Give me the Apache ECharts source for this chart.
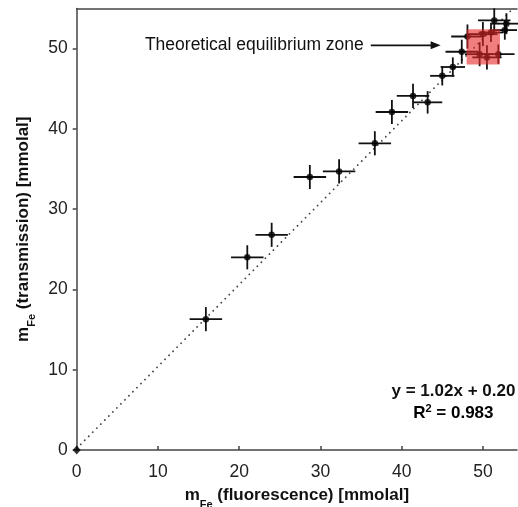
<!DOCTYPE html>
<html><head><meta charset="utf-8">
<script src="https://cdn.jsdelivr.net/npm/echarts@6/dist/echarts.min.js"></script>
<style>html,body{margin:0;padding:0;background:#fff}#c{width:518px;height:507px}</style>
</head><body><div id="c"></div>
<script>
// fluorescence (x) vs transmission (y), mmolal
var xVals = [15.9, 21.0, 24.0, 28.7, 32.3, 36.7, 38.8, 41.4, 43.2, 45.0, 46.3, 47.4, 48.1, 49.6, 50.5, 51.9, 50.0, 51.0, 51.4, 52.9, 52.7];
var yVals = [16.3, 24.0, 26.8, 34.0, 34.7, 38.2, 42.1, 44.1, 43.3, 46.6, 47.7, 49.6, 51.5, 49.3, 48.9, 49.3, 51.8, 52.0, 53.5, 53.1, 52.3];
var xErr  = [2.0, 2.0, 2.0, 2.0, 2.0, 2.0, 2.0, 2.0, 1.8, 1.5, 1.5, 2.0, 2.0, 1.8, 1.8, 2.0, 1.8, 1.5, 2.0, 1.8, 1.5];
var yErr  = [1.5, 1.5, 1.5, 1.5, 1.5, 1.5, 1.5, 1.5, 1.4, 1.2, 1.2, 1.5, 1.5, 1.5, 1.5, 1.2, 1.5, 1.2, 1.5, 1.3, 1.2];
var zoneX = [48.0, 52.1];
var zoneY = [48.0, 52.4];
var fitSlope = 1.02, fitIntercept = 0.20;
var fitXEnd = 53.7;
var xTicks = [0, 10, 20, 30, 40, 50];
var yTicks = [0, 10, 20, 30, 40, 50];

var pts = xVals.map(function (x, i) { return [x, yVals[i], xErr[i], yErr[i]]; });
var fitLine = [[0, fitIntercept], [fitXEnd, fitSlope * fitXEnd + fitIntercept]];

var FONT = '"Liberation Sans", Arial, sans-serif';
var chart = echarts.init(document.getElementById('c'), null, {renderer: 'canvas'});
var nameRich = {
  b: {fontFamily: FONT, fontWeight: 'bold', fontSize: 17, color: '#111'},
  s: {fontFamily: FONT, fontWeight: 'bold', fontSize: 11, color: '#111', verticalAlign: 'bottom', padding: [0, 0, -6, 0]}
};

var option = {
  animation: false,
  backgroundColor: '#fff',
  grid: {left: 76.7, right: 1, top: 8.4, bottom: 57, show: false, outerBoundsMode: 'none', containLabel: false},
  xAxis: [{
    type: 'value', min: 0, max: 54.2, interval: 10,
    name: '{b|m}{s|Fe}{b| (fluorescence) [mmolal]}', nameLocation: 'middle', nameGap: 37,
    nameTextStyle: {rich: nameRich},
    axisLine: {show: true, onZero: false, lineStyle: {color: '#444', width: 1.5}},
    axisTick: {show: true, inside: true, length: 4, lineStyle: {color: '#444', width: 1.5}},
    axisLabel: {fontFamily: FONT, fontSize: 17.5, color: '#222', margin: 13, showMaxLabel: false,
      formatter: function (v) { return xTicks.indexOf(v) >= 0 ? String(v) : ''; }},
    splitLine: {show: false}
  }, {
    type: 'value', position: 'top', min: 0, max: 54.2,
    axisLine: {show: true, onZero: false, lineStyle: {color: '#444', width: 1.5}},
    axisTick: {show: false}, axisLabel: {show: false}, splitLine: {show: false}
  }],
  yAxis: {
    type: 'value', min: 0, max: 55, interval: 10,
    name: '{b|m}{s|Fe}{b| (transmission) [mmolal]}', nameLocation: 'middle', nameGap: 43,
    nameTextStyle: {rich: nameRich},
    axisLine: {show: true, onZero: false, lineStyle: {color: '#444', width: 1.5}},
    axisTick: {show: true, inside: false, length: 4, lineStyle: {color: '#444', width: 1.5}},
    axisLabel: {fontFamily: FONT, fontSize: 17.5, color: '#222', margin: 9, showMaxLabel: false,
      formatter: function (v) { return yTicks.indexOf(v) >= 0 ? String(v) : ''; }},
    splitLine: {show: false}
  },
  series: [
    {
      type: 'line', data: fitLine, symbol: 'none', silent: true, z: 1,
      lineStyle: {color: '#444', width: 1.8, type: [0.1, 5.6], cap: 'round'}
    },
    {
      type: 'custom', z: 3, silent: true,
      renderItem: function (params, api) {
        var x = api.value(0), y = api.value(1), ex = api.value(2), ey = api.value(3);
        var l = api.coord([x - ex, y]), r = api.coord([x + ex, y]);
        var t = api.coord([x, y + ey]), b = api.coord([x, y - ey]);
        var st = {stroke: '#111', lineWidth: 1.8};
        return {type: 'group', children: [
          {type: 'line', shape: {x1: l[0], y1: l[1], x2: r[0], y2: r[1]}, style: st},
          {type: 'line', shape: {x1: t[0], y1: t[1], x2: b[0], y2: b[1]}, style: st}
        ]};
      },
      data: pts
    },
    {
      type: 'scatter', data: pts.map(function (p) { return [p[0], p[1]]; }), z: 4,
      symbol: 'circle', symbolSize: 6.5, itemStyle: {color: '#000'}, silent: true
    },
    {
      type: 'scatter', data: [[0, 0]], z: 5, symbol: 'diamond', symbolSize: [8, 9],
      itemStyle: {color: '#000'}, silent: true
    },
    {
      type: 'custom', z: 6, silent: true,
      renderItem: function (params, api) {
        var a = api.coord([api.value(0), api.value(3)]);
        var b = api.coord([api.value(2), api.value(1)]);
        return {type: 'rect', shape: {x: a[0], y: a[1], width: b[0] - a[0], height: b[1] - a[1]},
          style: {fill: 'rgba(232,40,40,0.6)'}};
      },
      data: [[zoneX[0], zoneY[0], zoneX[1], zoneY[1]]]
    }
  ]
};
chart.setOption(option);

var arrowStart = chart.convertToPixel({gridIndex: 0}, [36.2, 50.4]);
var arrowEnd = chart.convertToPixel({gridIndex: 0}, [44.8, 50.4]);
var eqPos = chart.convertToPixel({gridIndex: 0}, [54.0, 7.3]);
chart.setOption({
  graphic: [
    {type: 'text', x: arrowStart[0] - 7, y: arrowStart[1], style: {text: 'Theoretical equilibrium zone', font: '17.5px ' + FONT, fill: '#111', align: 'right', verticalAlign: 'middle'}},
    {type: 'line', shape: {x1: arrowStart[0], y1: arrowStart[1], x2: arrowEnd[0] - 8, y2: arrowEnd[1]}, style: {stroke: '#111', lineWidth: 1.6}},
    {type: 'polygon', shape: {points: [[arrowEnd[0], arrowEnd[1]], [arrowEnd[0] - 10, arrowEnd[1] - 4], [arrowEnd[0] - 10, arrowEnd[1] + 4]]}, style: {fill: '#111'}},
    {type: 'text', x: eqPos[0], y: eqPos[1], style: {text: 'y = 1.02x + 0.20', font: 'bold 17px ' + FONT, fill: '#111', align: 'right', verticalAlign: 'middle'}},
    {type: 'text', x: eqPos[0] - 62, y: eqPos[1] + 22, style: {
      text: '{a|R}{s|2}{a| = 0.983}', align: 'center', verticalAlign: 'middle',
      rich: {a: {font: 'bold 17px ' + FONT, color: '#111'}, s: {font: 'bold 11px ' + FONT, color: '#111', verticalAlign: 'top', padding: [0, 0, 9, 0]}}}}
  ]
});
</script></body></html>
